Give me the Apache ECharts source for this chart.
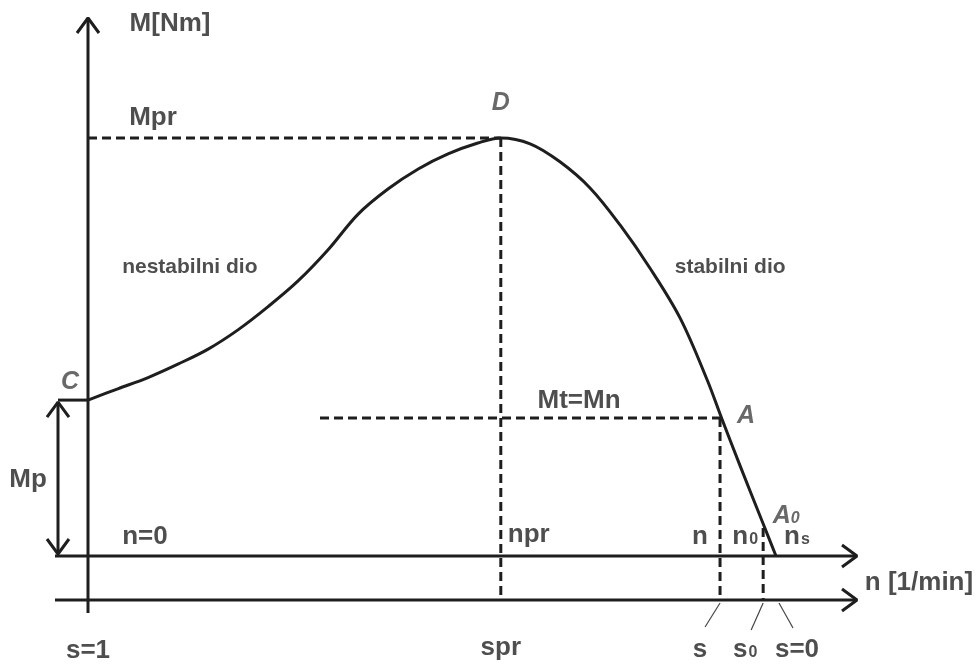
<!DOCTYPE html>
<html>
<head>
<meta charset="utf-8">
<title>M(n)</title>
<script src="https://cdn.jsdelivr.net/npm/echarts@6/dist/echarts.min.js"></script>
<style>
  html, body { margin: 0; padding: 0; background: #fff; }
  #chart { width: 978px; height: 664px; }
</style>
</head>
<body>
<div id="chart"></div>
<script>
// karakteristika M(n) – vrijednosti ocitane sa slike, n [1/min], M [Nm]
const curveN = [0, 65, 131, 196, 262, 327, 392, 458, 523, 589, 654, 720, 785, 850, 900, 964, 1029, 1095, 1160, 1225, 1291, 1350, 1382, 1422, 1472, 1500];
const curveM = [37.3, 40.0, 42.7, 45.9, 49.5, 54.1, 59.6, 65.8, 73.2, 81.8, 87.8, 92.6, 96.2, 98.8, 100, 98.6, 94.3, 88.0, 79.2, 68.9, 56.9, 42.1, 32.8, 21.5, 7.7, 0];

// karakteristicne tocke
const NS = 1500, NPR = 900, N_A = 1378, N_0 = 1472;
const MPR = 100, MN = 33, MP = 37.3, M_A0 = 7.7;

// oznake ispod osi n i osi s
const nTicks = [0, NPR, N_A, N_0, NS];
const nNames = ['n=0', 'npr', 'n', '{b|n}{sub|0}', '{b|n}{sub|s}'];
const sNames = ['s=1', 'spr', 's', '{b|s}{sub|0}', 's=0'];

// raspored (pikseli)
const W = 978, H = 664;
const X0 = 88, XS = 776, Y0 = 556, YPR = 138;
const kx = NS / (XS - X0), ky = MPR / (Y0 - YPR);
const N_LEFT = -33 * kx, N_RIGHT = NS + 81 * kx;
const M_TOP = MPR + 120 * ky, M_BOTTOM = -57 * ky, S_AX = -44 * ky;
const N_MP = -30 * kx;

const chart = echarts.init(document.getElementById('chart'));

function poly(data, opt) {
  return Object.assign({
    type: 'line', data: data, symbol: 'none', clip: false, silent: true,
    lineStyle: { color: '#1e1e1e', width: 3 }
  }, opt || {});
}
function dashed(data) {
  return poly(data, { lineStyle: { color: '#1e1e1e', width: 3, type: [9, 5] } });
}
function thin(data) {
  return poly(data, { lineStyle: { color: '#444', width: 1.2 } });
}
// otvorena strelica: dir = 'up' | 'down' | 'right'
function head(tip, dir) {
  const L = 15, h = 11;
  if (dir === 'right') return [[tip[0] - L * kx, tip[1] + h * ky], tip, [tip[0] - L * kx, tip[1] - h * ky]];
  const s = dir === 'up' ? -1 : 1;
  return [[tip[0] - h * kx, tip[1] + s * L * ky], tip, [tip[0] + h * kx, tip[1] + s * L * ky]];
}

const FONT = 'Liberation Sans, Arial, sans-serif';
const INK = '#222';
const rich = {
  b: { fontFamily: FONT, fontWeight: 'bold', fontSize: 26, color: INK, verticalAlign: 'bottom' },
  sub: { fontFamily: FONT, fontWeight: 'bold', fontSize: 16, color: INK, verticalAlign: 'bottom', padding: [0, 0, 2, 1] },
  i: { fontFamily: FONT, fontStyle: 'italic', fontSize: 25, color: '#444', verticalAlign: 'bottom' },
  isub: { fontFamily: FONT, fontStyle: 'italic', fontSize: 16, color: '#444', verticalAlign: 'bottom', padding: [0, 0, 2, 0] }
};

// tekst: [tekst, sidro n, sidro M, dx, dy, velicina]
const labels = [
  ['M[Nm]', 0, MPR, 82, -114],
  ['Mpr', 0, MPR, 65, -20],
  ['{i|D}', NPR, MPR, 0, -35],
  ['{i|C}', 0, MP, -18, -18],
  ['Mp', 0, 0, -60, -76],
  ['nestabilni dio', 222, 69.4, 0, 1, 21],
  ['stabilni dio', 1400, 69.4, 0, 1, 21],
  ['Mt=Mn', N_A, MN, -141, -17],
  ['{i|A}', N_A, MN, 26, -2],
  ['{i|A}{isub|0}', N_0, M_A0, 23, -8],
  ['n [1/min]', NS, 0, 143, 27]
];
const nOff = [[57, -19], [28, -21], [-20, -19], [-18, -19], [21, -19]];
const sOff = [[0, 51], [0, 48], [-20, 50], [-18, 50], [21, 50]];
nTicks.forEach((n, i) => {
  labels.push([nNames[i], n, 0, nOff[i][0], nOff[i][1]]);
  labels.push([sNames[i], n, S_AX, sOff[i][0], sOff[i][1]]);
});

const labelData = labels.map(l => ({
  value: [l[1] + l[3] * kx, l[2] - l[4] * ky],
  label: {
    show: true, position: 'inside', formatter: l[0],
    fontFamily: FONT, fontWeight: 'bold', fontSize: l[5] || 26, color: INK,
    rich: rich
  }
}));

const option = {
  animation: false,
  grid: { left: 0, top: 0, width: W, height: H },
  xAxis: { type: 'value', min: -X0 * kx, max: (W - X0) * kx, show: false },
  yAxis: { type: 'value', min: -(H - Y0) * ky, max: MPR + YPR * ky, show: false },
  series: [
    // osi
    poly([[0, M_BOTTOM], [0, M_TOP]]),
    poly(head([0, M_TOP], 'up')),
    poly([[N_LEFT, 0], [N_RIGHT, 0]]),
    poly(head([N_RIGHT, 0], 'right')),
    poly([[N_LEFT, S_AX], [N_RIGHT, S_AX]]),
    poly(head([N_RIGHT, S_AX], 'right')),
    // polazni moment Mp
    poly([[N_MP, MP], [0, MP]]),
    poly([[N_MP, MP - 2 * ky], [N_MP, 2 * ky]]),
    poly(head([N_MP, MP - 2 * ky], 'up')),
    poly(head([N_MP, 2 * ky], 'down')),
    // isprekidane linije
    dashed([[0, MPR], [NPR, MPR]]),
    dashed([[NPR, MPR], [NPR, S_AX]]),
    dashed([[232 * kx, MN], [N_A, MN]]),
    dashed([[N_A, MN], [N_A, S_AX]]),
    dashed([[N_0, M_A0 - 1], [N_0, S_AX]]),
    // kose crtice ispod osi s
    thin([[N_A, S_AX - 3 * ky], [N_A - 15 * kx, S_AX - 27 * ky]]),
    thin([[N_0, S_AX - 3 * ky], [N_0 - 12 * kx, S_AX - 30 * ky]]),
    thin([[NS + 3 * kx, S_AX - 3 * ky], [NS + 17 * kx, S_AX - 28 * ky]]),
    // krivulja M(n)
    poly(curveN.map((n, i) => [n, curveM[i]]), { smooth: 0.35 }),
    // tekst
    {
      type: 'scatter', data: labelData, symbolSize: 1, clip: false, silent: true,
      itemStyle: { color: 'rgba(0,0,0,0)' }
    }
  ]
};
chart.setOption(option);
</script>
</body>
</html>
